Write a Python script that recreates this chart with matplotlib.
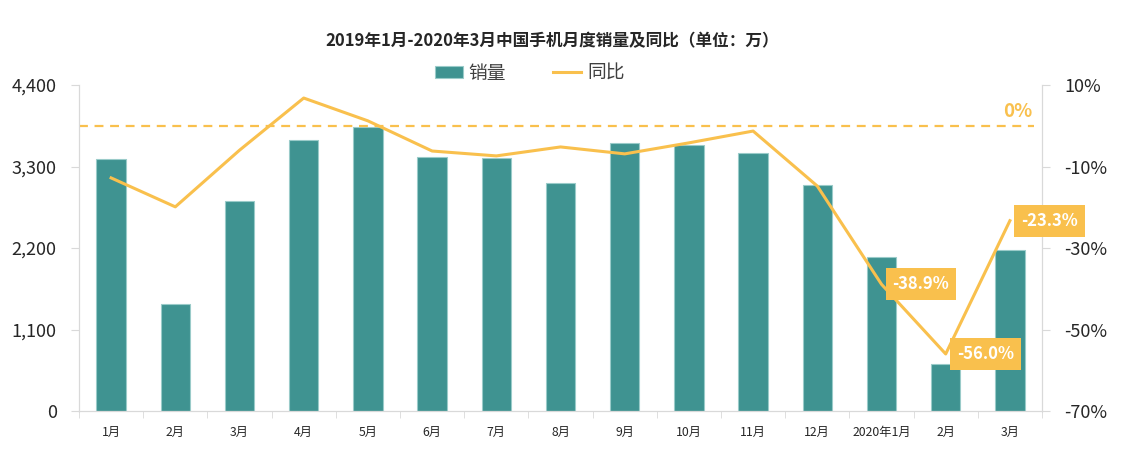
import numpy as np
import matplotlib.pyplot as plt
from matplotlib.ticker import FuncFormatter

plt.rcParams['font.family'] = ['Noto Sans CJK SC', 'DejaVu Sans']

months = ['1月', '2月', '3月', '4月', '5月', '6月', '7月', '8月', '9月', '10月',
          '11月', '12月', '2020年1月', '2月', '3月']
sales = [3400, 1445, 2835, 3660, 3835, 3430, 3415, 3075, 3615, 3590,
         3480, 3050, 2080, 635, 2175]
yoy = [-12.8, -19.9, -6.0, 6.8, 1.2, -6.2, -7.4, -5.2, -6.9, -4.2,
       -1.3, -14.8, -38.9, -56.0, -23.3]
labelled = [12, 13, 14]

bar_color = '#3f9391'
line_color = '#f9c04d'
grid_color = '#d9d9d9'
text_color = '#262626'

fig = plt.figure(figsize=(11.32, 4.66), dpi=100)
ax = fig.add_axes([0.0698, 0.118, 0.8507, 0.6996])
ax2 = ax.twinx()

x = np.arange(len(months))
bars = ax.bar(x, sales, width=0.46, color=bar_color, edgecolor='#9acbc9',
              linewidth=0.8, label='销量', zorder=2)
ax.set_xlim(-0.5, len(months) - 0.5)
ax.set_ylim(0, 4400)
ax.set_yticks([0, 1100, 2200, 3300, 4400])
ax.yaxis.set_major_formatter(FuncFormatter(lambda v, p: f'{int(v):,}'))

ax.set_xticks(x)
ax.set_xticklabels(months, fontsize=8.8, color=text_color)
ax.set_xticks(np.arange(-0.5, len(months)), minor=True)
ax.tick_params(axis='x', which='major', length=0, pad=11)
ax.tick_params(axis='x', which='minor', length=5, color=grid_color)
ax.tick_params(axis='y', length=6, color=grid_color, labelsize=13,
               labelcolor=text_color, pad=10)

line, = ax2.plot(x, yoy, color=line_color, lw=2.2, label='同比', zorder=3)
ax2.set_ylim(-70, 10)
ax2.set_yticks([-70, -50, -30, -10, 10])
ax2.yaxis.set_major_formatter(FuncFormatter(lambda v, p: f'{int(v)}%'))
ax2.tick_params(axis='y', length=6, color=grid_color, labelsize=13,
                labelcolor=text_color, pad=10)
ax2.axhline(0, xmin=0, xmax=0.992, color=line_color, ls=(0, (4, 3)), lw=1.6)
ax2.text(0.99, 1.2, '0%', transform=ax2.get_yaxis_transform(), ha='right',
         va='bottom', color=line_color, fontsize=13.5, fontweight='bold')

for i in labelled:
    ax2.annotate(f'{yoy[i]:.1f}%', (x[i], yoy[i]), xytext=(8, 0),
                 textcoords='offset points', ha='left', va='center',
                 color='white', fontsize=12, fontweight='bold',
                 bbox=dict(boxstyle='square,pad=0.42', fc=line_color, ec='none'),
                 annotation_clip=False, zorder=5)

for a in (ax, ax2):
    a.spines['top'].set_visible(False)
    a.spines['left'].set_color(grid_color)
    a.spines['right'].set_color(grid_color)
    a.spines['bottom'].set_color(grid_color)

fig.text(0.488, 0.912, '2019年1月-2020年3月中国手机月度销量及同比（单位：万）',
         ha='center', va='center', fontsize=12, fontweight='bold', color=text_color)
fig.legend([bars, line], ['销量', '同比'], loc='center', ncol=2,
           bbox_to_anchor=(0.468, 0.843), frameon=False, fontsize=13.5,
           handlelength=1.5, handleheight=0.6, handletextpad=0.3,
           columnspacing=2.5, labelcolor='#404040')

fig.savefig('out.png', dpi=100)
